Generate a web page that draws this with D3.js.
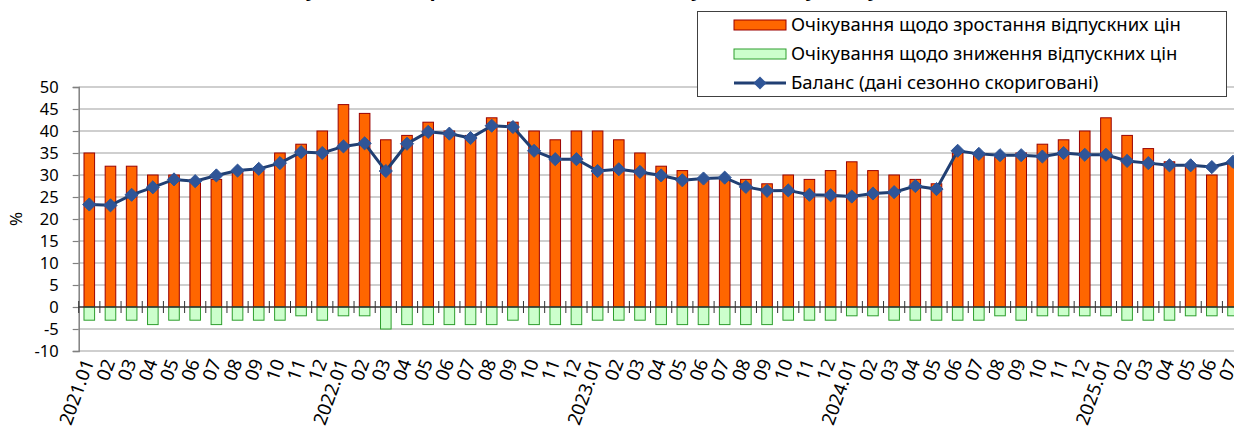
<!DOCTYPE html>
<html>
<head>
<meta charset="utf-8">
<script src="https://cdn.jsdelivr.net/npm/d3@7"></script>
<style>
  body { margin: 0; background: #fff; }
  svg { display: block; font-family: 'Noto Sans', 'Open Sans', sans-serif; }
</style>
</head>
<body>
<div id="chart"></div>
<script>
// -------------------------------------------------------------------------
// Data

const years = [2021, 2022, 2023, 2024, 2025];
const monthsInLastYear = 7;

// expectations of rising prices, %
const riseValues = [
  35, 32, 32, 30, 30, 29, 29, 31, 31, 35, 37, 40,
  46, 44, 38, 39, 42, 40, 39, 43, 42, 40, 38, 40,
  40, 38, 35, 32, 31, 29, 29, 29, 28, 30, 29, 31,
  33, 31, 30, 29, 28, 35, 35, 34, 35, 37, 38, 40,
  43, 39, 36, 33, 32, 30, 33
];

// expectations of falling prices, %
const fallValues = [
  -3, -3, -3, -4, -3, -3, -4, -3, -3, -3, -2, -3,
  -2, -2, -5, -4, -4, -4, -4, -4, -3, -4, -4, -4,
  -3, -3, -3, -4, -4, -4, -4, -4, -4, -3, -3, -3,
  -2, -2, -3, -3, -3, -3, -3, -2, -3, -2, -2, -2,
  -2, -3, -3, -3, -2, -2, -2
];

// balance, seasonally adjusted
const balanceValues = [
  23.3, 23.1, 25.5, 27.2, 29.0, 28.6, 29.9, 31.0, 31.4, 32.7, 35.2, 35.0,
  36.5, 37.2, 30.9, 37.1, 39.8, 39.4, 38.4, 41.2, 40.9, 35.5, 33.6, 33.6,
  30.9, 31.3, 30.7, 29.9, 28.8, 29.2, 29.4, 27.3, 26.4, 26.5, 25.5, 25.4,
  25.1, 25.8, 26.1, 27.5, 26.8, 35.5, 34.8, 34.5, 34.5, 34.2, 35.0, 34.6,
  34.6, 33.2, 32.7, 32.2, 32.2, 31.8, 33.0
];

const yTicks = [-10, -5, 0, 5, 10, 15, 20, 25, 30, 35, 40, 45, 50];

const legendLabels = [
  'Очікування щодо зростання відпускних цін',
  'Очікування щодо зниження відпускних цін',
  'Баланс (дані сезонно скориговані)'
];

const titleText = 'Очікування підприємств щодо зміни відпускних цін у наступні 12 місяців';

// category labels: "2021.01", "02", ... "12", "2022.01", ...
const categories = [];
years.forEach((year, yi) => {
  const count = yi === years.length - 1 ? monthsInLastYear : 12;
  for (let m = 1; m <= count; m++) {
    const mm = String(m).padStart(2, '0');
    categories.push(m === 1 ? `${year}.${mm}` : mm);
  }
});
const keys = categories.map((c, i) => i);

// -------------------------------------------------------------------------
// Layout

const width = 1234;
const height = 435;
const fontSize = 18.5;

const svg = d3.select('#chart')
  .append('svg')
  .attr('width', width)
  .attr('height', height);

const x = d3.scaleBand()
  .domain(keys)
  .range([78.7, 1243.6])
  .paddingInner(0.5)
  .paddingOuter(0.25);

const y = d3.scaleLinear()
  .domain([-10, 50])
  .range([351, 87]);

const plotLeft = x.range()[0];
const plotRight = x.range()[1];
const step = x.step();

// title (mostly clipped at the top edge, as in the source)
svg.append('text')
  .attr('x', 640)
  .attr('y', -4)
  .attr('text-anchor', 'middle')
  .attr('font-size', 20)
  .attr('font-weight', 'bold')
  .attr('fill', '#000')
  .text(titleText);

// gridlines
svg.append('g')
  .selectAll('line')
  .data(yTicks.filter(t => t !== 0))
  .enter()
  .append('line')
  .attr('x1', plotLeft)
  .attr('x2', plotRight)
  .attr('y1', d => y(d))
  .attr('y2', d => y(d))
  .attr('stroke', '#bfbfbf')
  .attr('stroke-width', 1.5);

// y axis
const yAxis = d3.axisLeft(y)
  .tickValues(yTicks)
  .tickSize(6)
  .tickPadding(14)
  .tickFormat(d => String(d));

const yAxisG = svg.append('g')
  .attr('transform', `translate(${plotLeft},0)`)
  .call(yAxis);
yAxisG.select('.domain').attr('stroke', '#808080').attr('stroke-width', 1.5);
yAxisG.selectAll('.tick line').attr('stroke', '#808080').attr('stroke-width', 1.2);
yAxisG.selectAll('.tick text')
  .attr('font-size', 16.5)
  .attr('fill', '#000')
  .attr('font-family', "'Noto Sans', sans-serif");

svg.append('text')
  .attr('transform', `translate(22,${y(20)}) rotate(-90)`)
  .attr('text-anchor', 'middle')
  .attr('font-size', 17)
  .attr('fill', '#000')
  .text('%');

// bars: rising
svg.append('g')
  .selectAll('rect')
  .data(riseValues)
  .enter()
  .append('rect')
  .attr('x', (d, i) => x(i))
  .attr('y', d => y(d))
  .attr('width', x.bandwidth())
  .attr('height', d => y(0) - y(d))
  .attr('fill', '#ff6600')
  .attr('stroke', '#990000')
  .attr('stroke-width', 1);

// bars: falling
svg.append('g')
  .selectAll('rect')
  .data(fallValues)
  .enter()
  .append('rect')
  .attr('x', (d, i) => x(i))
  .attr('y', y(0))
  .attr('width', x.bandwidth())
  .attr('height', d => y(d) - y(0))
  .attr('fill', '#ccffcc')
  .attr('stroke', '#2e9e2e')
  .attr('stroke-width', 1);

// x axis at zero, with crossing ticks between categories
const xAxisG = svg.append('g');
xAxisG.append('line')
  .attr('x1', plotLeft)
  .attr('x2', plotRight)
  .attr('y1', y(0))
  .attr('y2', y(0))
  .attr('stroke', '#333')
  .attr('stroke-width', 1.5);
xAxisG.selectAll('.cat-tick')
  .data(d3.range(keys.length + 1))
  .enter()
  .append('line')
  .attr('class', 'cat-tick')
  .attr('x1', k => plotLeft + k * step)
  .attr('x2', k => plotLeft + k * step)
  .attr('y1', y(0) - 6)
  .attr('y2', y(0) + 6)
  .attr('stroke', '#333')
  .attr('stroke-width', 1);

// category labels
svg.append('g')
  .selectAll('text')
  .data(categories)
  .enter()
  .append('text')
  .attr('transform', (d, i) => `translate(${x(i) + x.bandwidth() / 2 + 5},362) rotate(-70)`)
  .attr('text-anchor', 'end')
  .attr('font-size', fontSize)
  .attr('fill', '#000')
  .text(d => d);

// balance line
const line = d3.line()
  .x((d, i) => x(i) + x.bandwidth() / 2)
  .y(d => y(d));

svg.append('path')
  .datum(balanceValues)
  .attr('d', line)
  .attr('fill', 'none')
  .attr('stroke', '#203f73')
  .attr('stroke-width', 3);

const diamond = d3.symbol().type(d3.symbolDiamond2).size(110);

svg.append('g')
  .selectAll('path')
  .data(balanceValues)
  .enter()
  .append('path')
  .attr('d', diamond)
  .attr('transform', (d, i) => `translate(${x(i) + x.bandwidth() / 2},${y(d)})`)
  .attr('fill', '#2f5597')
  .attr('stroke', '#2f5597')
  .attr('stroke-width', 1);

// -------------------------------------------------------------------------
// Legend

const legend = svg.append('g');
legend.append('rect')
  .attr('x', 697.5)
  .attr('y', 11.5)
  .attr('width', 529)
  .attr('height', 85)
  .attr('fill', '#fff')
  .attr('stroke', '#404040')
  .attr('stroke-width', 1);

const rowY = [25, 54, 83];
const swatchX = 734;
const swatchW = 52;

legend.append('rect')
  .attr('x', swatchX)
  .attr('y', rowY[0] - 5)
  .attr('width', swatchW)
  .attr('height', 10)
  .attr('fill', '#ff6600')
  .attr('stroke', '#990000');

legend.append('rect')
  .attr('x', swatchX)
  .attr('y', rowY[1] - 5)
  .attr('width', swatchW)
  .attr('height', 10)
  .attr('fill', '#ccffcc')
  .attr('stroke', '#2e9e2e');

legend.append('line')
  .attr('x1', swatchX)
  .attr('x2', swatchX + swatchW)
  .attr('y1', rowY[2])
  .attr('y2', rowY[2])
  .attr('stroke', '#203f73')
  .attr('stroke-width', 3);
legend.append('path')
  .attr('d', diamond)
  .attr('transform', `translate(${swatchX + swatchW / 2},${rowY[2]})`)
  .attr('fill', '#2f5597');

legend.selectAll('.legend-label')
  .data(legendLabels)
  .enter()
  .append('text')
  .attr('class', 'legend-label')
  .attr('x', 791)
  .attr('y', (d, i) => rowY[i])
  .attr('dy', '0.35em')
  .attr('font-size', fontSize)
  .attr('fill', '#000')
  .text(d => d);
</script>
</body>
</html>
